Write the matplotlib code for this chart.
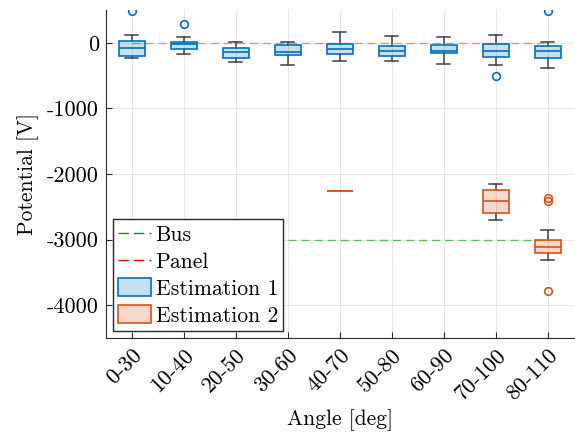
import matplotlib.pyplot as plt
from matplotlib.lines import Line2D
from matplotlib.patches import Patch
from matplotlib.colors import to_rgba
from matplotlib.transforms import ScaledTranslation

plt.rcParams['font.family'] = 'serif'
plt.rcParams['font.serif'] = ['cmr10']
plt.rcParams['mathtext.fontset'] = 'cm'
plt.rcParams['axes.unicode_minus'] = False
plt.rcParams['axes.formatter.use_mathtext'] = True

cats = ['0-30', '10-40', '20-50', '30-60', '40-70', '50-80', '60-90', '70-100', '80-110']

# Estimation 1 (all angle bins)
e1_whishi = [126, 81, 15, 15, 167, 101, 81, 126, 15]
e1_q3 = [20, 5, -86, -30, -20, -56, -30, -15, -51]
e1_med = [-86, -25, -141, -136, -101, -126, -121, -131, -131]
e1_q1 = [-197, -101, -237, -187, -172, -197, -162, -217, -227]
e1_whislo = [-237, -172, -298, -343, -278, -278, -318, -338, -384]
e1_fliers = [[480], [293], [], [], [], [], [], [-510], [485]]

# Estimation 2 (only some bins)
e2_pos = [5, 8, 9]
e2_whishi = [-2258, -2157, -2848]
e2_q3 = [-2258, -2242, -3005]
e2_med = [-2258, -2409, -3111]
e2_q1 = [-2258, -2596, -3207]
e2_whislo = [-2258, -2707, -3313]
e2_fliers = [[], [], [-2359, -2404, -3778]]

bus_x = [4, 9]
bus_y = [-3000, -3000]
panel_x = [1, 9]
panel_y = [0, 0]

blue = '#0072BD'
orange = '#D95319'
whisk = '#404040'


def mkstats(whishi, q3, med, q1, whislo, fliers):
    out = []
    for n in range(len(med)):
        out.append(dict(whishi=whishi[n], q3=q3[n], med=med[n], q1=q1[n],
                        whislo=whislo[n], fliers=fliers[n]))
    return out


def drawbox(ax, stats, pos, col):
    bp = ax.bxp(stats, positions=pos, widths=0.5, patch_artist=True,
                manage_ticks=False,
                boxprops=dict(facecolor=col, edgecolor=col, lw=1.2),
                medianprops=dict(color=col, lw=1.2),
                whiskerprops=dict(color=whisk, lw=1.1),
                capprops=dict(color=whisk, lw=1.1),
                flierprops=dict(marker='o', mfc='none', mec=col, ms=5.5, mew=1.2))
    fc = list(to_rgba(col))
    fc[3] = 0.22
    for b in bp['boxes']:
        b.set_facecolor(fc)
        b.set_zorder(3)
    for n, s in enumerate(stats):
        if s['whishi'] == s['whislo']:
            for art in bp['caps'][2*n:2*n+2] + bp['whiskers'][2*n:2*n+2]:
                art.set_visible(False)
    return bp


fig, ax = plt.subplots(figsize=(5.75, 4.33), dpi=100)
fig.subplots_adjust(left=0.184, right=0.998, bottom=0.219, top=0.977)

ax.plot(bus_x, bus_y, color='#00a000', alpha=0.6, lw=1.0, dashes=(5.8, 3.6), zorder=2)
ax.plot(panel_x, panel_y, color='#ff2020', alpha=0.5, lw=1.0, dashes=(5.8, 3.6), zorder=2)

drawbox(ax, mkstats(e1_whishi, e1_q3, e1_med, e1_q1, e1_whislo, e1_fliers),
        list(range(1, len(cats) + 1)), blue)
drawbox(ax, mkstats(e2_whishi, e2_q3, e2_med, e2_q1, e2_whislo, e2_fliers),
        e2_pos, orange)

ax.set_xlim(0.5, len(cats) + 0.5)
ax.set_ylim(-4500, 500)
ax.set_xticks(range(1, len(cats) + 1))
ax.set_xticklabels(cats, rotation=45, ha='right', rotation_mode='anchor', fontsize=16)
shift = ScaledTranslation(5 / 100, 0, fig.dpi_scale_trans)
for lab in ax.get_xticklabels():
    lab.set_transform(lab.get_transform() + shift)
ax.set_yticks([0, -1000, -2000, -3000, -4000])
ax.set_yticklabels(['0', '-1000', '-2000', '-3000', '-4000'], fontsize=16)
ax.tick_params(direction='in', length=4, color='#262626', pad=5)
ax.grid(True, color='#e3e3e3', lw=0.6)
ax.set_axisbelow(True)
for sp in ['top', 'right']:
    ax.spines[sp].set_visible(False)
for sp in ['left', 'bottom']:
    ax.spines[sp].set_color('#262626')

ax.set_xlabel('Angle [deg]', fontsize=15.5)
ax.set_ylabel('Potential [V]', fontsize=15.5)
ax.yaxis.set_label_coords(-0.143, 0.5)

handles = [Line2D([], [], color='#009900', lw=1.0, dashes=(7.5, 3.6)),
           Line2D([], [], color='#ff0000', lw=1.0, dashes=(7.5, 3.6)),
           Patch(facecolor=(0, 0.447, 0.741, 0.22), edgecolor=blue, lw=1.2),
           Patch(facecolor=(0.851, 0.325, 0.098, 0.22), edgecolor=orange, lw=1.2)]
leg = ax.legend(handles, ['Bus', 'Panel', 'Estimation 1', 'Estimation 2'],
                loc='lower left', fontsize=15.6, fancybox=False, framealpha=1,
                edgecolor='#262626', borderaxespad=0.35, handlelength=1.52,
                handleheight=0.92, labelspacing=0.29, borderpad=0.23, handletextpad=0.2)
leg.get_frame().set_linewidth(1.0)

plt.savefig('out.png')
